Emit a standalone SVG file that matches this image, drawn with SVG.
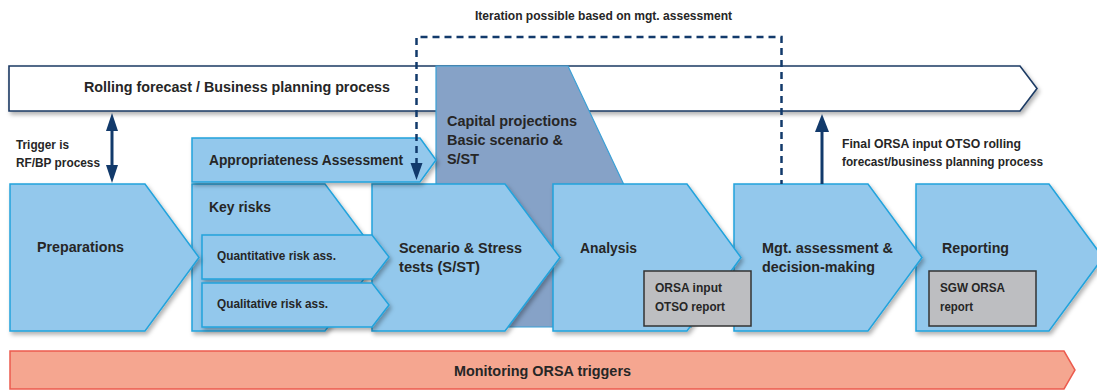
<svg xmlns="http://www.w3.org/2000/svg" width="1097" height="391" viewBox="0 0 1097 391">
<defs>
<filter id="sh" x="-10%" y="-10%" width="130%" height="130%">
<feDropShadow dx="2" dy="3" stdDeviation="2" flood-color="#000" flood-opacity="0.3"/>
</filter>
<style>
.t{font-family:"Liberation Sans",Arial,sans-serif;font-weight:bold;fill:#262626}
.chev{fill:#93c8ec;stroke:#22a3dc;stroke-width:1.5}
.box{fill:#bdbec1;stroke:#333;stroke-width:1.5}
.nav{fill:#123a6b}
</style>
</defs>
<rect width="1097" height="391" fill="#fff"/>
<g id="rolling">
<path d="M9,66 H1020 L1037,88.5 L1020,111 H9 Z" fill="#fff" stroke="#1b3a63" stroke-width="1.6" filter="url(#sh)"/>
<text class="t" x="84" y="92" font-size="15" textLength="306" lengthAdjust="spacingAndGlyphs">Rolling forecast / Business planning process</text>
</g>
<g id="capital">
<path d="M436,66 H568 L691,327 H436 Z" fill="#86a2c7" stroke="#3aa0d6" stroke-width="1.2"/>
<text class="t" font-size="14.5"><tspan x="447" y="126" textLength="130" lengthAdjust="spacingAndGlyphs">Capital projections</tspan><tspan x="447" y="145" textLength="116" lengthAdjust="spacingAndGlyphs">Basic scenario &amp;</tspan><tspan x="447" y="164" textLength="32" lengthAdjust="spacingAndGlyphs">S/ST</tspan></text>
</g>
<g id="reporting">
<path class="chev" d="M916,184 H1049 L1103,257.5 L1049,331 H916 Z" filter="url(#sh)"/>
<text class="t" x="942" y="253" font-size="14.5" textLength="67" lengthAdjust="spacingAndGlyphs">Reporting</text>
<rect class="box" x="929" y="271" width="107" height="55"/>
<text class="t" font-size="12.5"><tspan x="940" y="292" textLength="65" lengthAdjust="spacingAndGlyphs">SGW ORSA</tspan><tspan x="940" y="311" textLength="33" lengthAdjust="spacingAndGlyphs">report</tspan></text>
</g>
<g id="mgt">
<path class="chev" d="M734,184 H868 L922,257.5 L868,331 H734 Z" filter="url(#sh)"/>
<text class="t" font-size="14.5"><tspan x="762" y="253" textLength="131" lengthAdjust="spacingAndGlyphs">Mgt. assessment &amp;</tspan><tspan x="762" y="272" textLength="113" lengthAdjust="spacingAndGlyphs">decision-making</tspan></text>
</g>
<g id="analysis">
<path class="chev" d="M553,184 H687 L741,257.5 L687,331 H553 Z" filter="url(#sh)"/>
<text class="t" x="580" y="253" font-size="14.5" textLength="57" lengthAdjust="spacingAndGlyphs">Analysis</text>
<rect class="box" x="644" y="271" width="107" height="55"/>
<text class="t" font-size="12.5"><tspan x="655" y="292" textLength="67" lengthAdjust="spacingAndGlyphs">ORSA input</tspan><tspan x="655" y="311" textLength="70" lengthAdjust="spacingAndGlyphs">OTSO report</tspan></text>
</g>
<g id="sst">
<path class="chev" d="M372,184 H505 L560,257.5 L505,331 H372 Z" filter="url(#sh)"/>
<text class="t" font-size="14.5"><tspan x="399" y="253" textLength="123" lengthAdjust="spacingAndGlyphs">Scenario &amp; Stress</tspan><tspan x="399" y="272" textLength="81" lengthAdjust="spacingAndGlyphs">tests (S/ST)</tspan></text>
</g>
<g id="keyrisks">
<path class="chev" d="M192,184 H325 L380,257.5 L325,331 H192 Z" filter="url(#sh)"/>
<text class="t" x="209" y="212" font-size="14.5" textLength="62" lengthAdjust="spacingAndGlyphs">Key risks</text>
</g>
<g id="quant">
<path class="chev" d="M202,235 H372 L389,257 L372,279 H202 Z" filter="url(#sh)"/>
<text class="t" x="217" y="260" font-size="12" textLength="119" lengthAdjust="spacingAndGlyphs">Quantitative risk ass.</text>
</g>
<g id="qual">
<path class="chev" d="M202,283 H372 L389,305 L372,327 H202 Z" filter="url(#sh)"/>
<text class="t" x="217" y="308" font-size="12" textLength="111" lengthAdjust="spacingAndGlyphs">Qualitative risk ass.</text>
</g>
<g id="preparations">
<path class="chev" d="M10,184 H145 L199,257.5 L145,331 H10 Z" filter="url(#sh)"/>
<text class="t" x="37" y="252" font-size="14.5" textLength="87" lengthAdjust="spacingAndGlyphs">Preparations</text>
</g>
<g id="appropriateness">
<path class="chev" d="M192,138 H420 L436,160 L420,182 H192 Z" filter="url(#sh)"/>
<text class="t" x="209" y="165" font-size="14.5" textLength="194" lengthAdjust="spacingAndGlyphs">Appropriateness Assessment</text>
</g>
<g id="monitoring">
<path d="M10,351 H1064 L1075,370 L1064,389 H10 Z" fill="#f5a690" stroke="#ec5b4e" stroke-width="1.5"/>
<text class="t" x="454" y="376" font-size="14" textLength="177" lengthAdjust="spacingAndGlyphs">Monitoring ORSA triggers</text>
</g>
<g id="connectors">
<path d="M416.5,165 V37 H781.5 V184" fill="none" stroke="#123a6b" stroke-width="2.5" stroke-dasharray="7,5"/>
<polygon class="nav" points="410.5,163 422.5,163 416.5,180"/>
<line x1="112" y1="128" x2="112" y2="168" stroke="#123a6b" stroke-width="3"/>
<polygon class="nav" points="112,113 106,131 118,131"/>
<polygon class="nav" points="112,183 106,165 118,165"/>
<line x1="822" y1="128" x2="822" y2="184" stroke="#123a6b" stroke-width="3"/>
<polygon class="nav" points="822,114 815,132 829,132"/>
</g>
<g id="labels">
<text class="t" x="475" y="20" font-size="12.5" textLength="257" lengthAdjust="spacingAndGlyphs">Iteration possible based on mgt. assessment</text>
<text class="t" font-size="12"><tspan x="16" y="149" textLength="53" lengthAdjust="spacingAndGlyphs">Trigger is</tspan><tspan x="16" y="167" textLength="84" lengthAdjust="spacingAndGlyphs">RF/BP process</tspan></text>
<text class="t" font-size="12"><tspan x="842" y="148" textLength="179" lengthAdjust="spacingAndGlyphs">Final ORSA input OTSO rolling</tspan><tspan x="842" y="166" textLength="201" lengthAdjust="spacingAndGlyphs">forecast/business planning process</tspan></text>
</g>
</svg>
